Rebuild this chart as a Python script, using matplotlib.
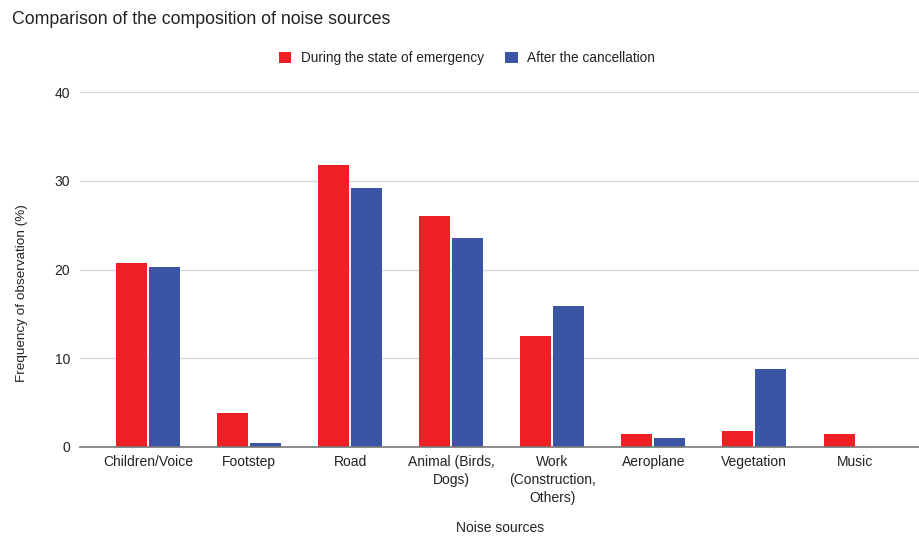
import matplotlib
matplotlib.use("Agg")
import matplotlib.pyplot as plt
import numpy as np

categories = ["Children/Voice", "Footstep", "Road", "Animal (Birds,\nDogs)",
              "Work\n(Construction,\nOthers)", "Aeroplane", "Vegetation", "Music"]
during = [20.7, 3.8, 31.8, 26.0, 12.5, 1.45, 1.8, 1.5]
after = [20.3, 0.45, 29.2, 23.6, 15.9, 1.05, 8.8, 0.0]
series_names = ["During the state of emergency", "After the cancellation"]
yticks = [0, 10, 20, 30, 40]

plt.rcParams['font.family'] = ['Liberation Sans', 'DejaVu Sans']

W, H = 919, 536
fig = plt.figure(figsize=(W / 100, H / 100), dpi=100)
left, right, top, bottom = 80, 919, 92, 447
ax = fig.add_axes([left / W, 1 - bottom / H, (right - left) / W, (bottom - top) / H])

red = "#ee1f25"
blue = "#3a55a4"
x = np.arange(len(categories))
bw = 0.307
gap = 0.008
ax.bar(x - bw / 2 - gap, during, width=bw, color=red, zorder=3, label=series_names[0])
ax.bar(x + bw / 2 + gap, after, width=bw, color=blue, zorder=3, label=series_names[1])

ax.set_xlim(-0.673, 7.63)
ax.set_ylim(0, 40)
ax.set_yticks(yticks)
ax.set_yticklabels([str(v) for v in yticks], fontsize=10, color="#222222")
ax.set_xticks(x)
ax.set_xticklabels(categories, fontsize=10, color="#222222", linespacing=1.37)
ax.tick_params(axis='both', length=0)
ax.tick_params(axis='y', pad=7)
ax.tick_params(axis='x', pad=6)

ax.grid(axis='y', color="#d9d9d9", linewidth=1, zorder=0)
ax.set_axisbelow(True)
for s in ["top", "right", "left"]:
    ax.spines[s].set_visible(False)
ax.spines["bottom"].set_color("#777777")
ax.spines["bottom"].set_linewidth(1.2)
ax.spines["bottom"].set_zorder(4)

fig.text(12 / W, 1 - 20 / H, "Comparison of the composition of noise sources",
         fontsize=12.8, color="#222222", ha="left", va="center")
fig.text(22 / W, 1 - 293 / H, "Frequency of observation (%)", rotation=90,
         fontsize=9.7, color="#222222", ha="center", va="center")
fig.text(500 / W, 1 - 528 / H, "Noise sources", fontsize=10, color="#222222",
         ha="center", va="center")

leg = fig.legend(loc="center", bbox_to_anchor=(467 / W, 1 - 58 / H), ncol=2,
                 frameon=False, fontsize=9.8, handlelength=0.9, handleheight=0.9,
                 handletextpad=0.7, columnspacing=1.6)
for t in leg.get_texts():
    t.set_color("#222222")

fig.savefig("out.png", dpi=100)
